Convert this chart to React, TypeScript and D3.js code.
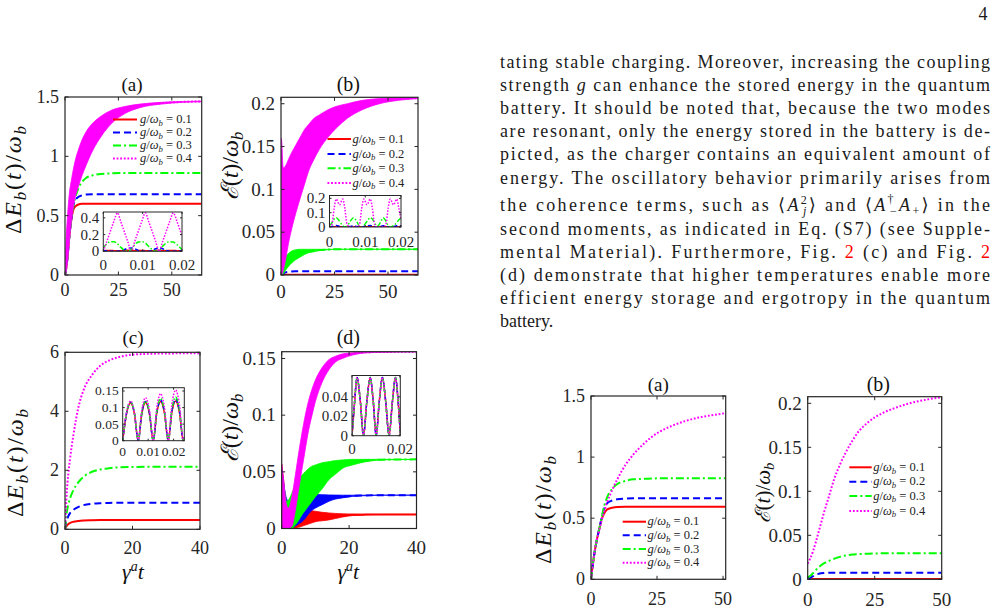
import React from 'react';
import * as d3 from 'd3';

const serif = "'Liberation Serif', 'DejaVu Serif', serif";
const ink = '#262626';

const couplings = [0.1, 0.2, 0.3, 0.4];
const lineColors = ['#ff0000', '#0000ff', '#00ff00', '#ff00ff'];

// (a) upper left: stored energy, long-time charging
const aTime = [0, 0.5, 1, 1.5, 2, 3, 4, 5, 6, 8, 10, 13, 17, 22, 28, 35, 45, 55, 64];
const aRed = [0, 0.05, 0.12, 0.22, 0.32, 0.47, 0.555, 0.58, 0.592, 0.6, 0.6, 0.6, 0.6, 0.6, 0.6, 0.6, 0.6, 0.6, 0.6];
const aBlue = [0, 0.05, 0.12, 0.22, 0.32, 0.48, 0.59, 0.635, 0.655, 0.672, 0.678, 0.68, 0.68, 0.68, 0.68, 0.68, 0.68, 0.68, 0.68];
const aGreen = [0, 0.05, 0.12, 0.22, 0.32, 0.48, 0.59, 0.665, 0.72, 0.785, 0.82, 0.84, 0.852, 0.857, 0.86, 0.86, 0.86, 0.86, 0.86];
const aMagLo = [0, 0.02, 0.08, 0.16, 0.27, 0.45, 0.58, 0.67, 0.73, 0.84, 0.93, 1.05, 1.17, 1.28, 1.36, 1.41, 1.44, 1.455, 1.46];
const aMagHi = [0, 0.3, 0.45, 0.58, 0.68, 0.8, 0.9, 0.98, 1.04, 1.14, 1.21, 1.28, 1.34, 1.39, 1.42, 1.44, 1.455, 1.462, 1.465];

const aInsetT = [0, 0.0009, 0.0018, 0.0027, 0.0036, 0.0044, 0.0053, 0.0062, 0.0071, 0.008, 0.0089, 0.0098, 0.0107, 0.0115, 0.0124, 0.0133, 0.0142, 0.0151, 0.016, 0.0169, 0.0178, 0.0187, 0.0196, 0.02];
const aInsetRed = [0.008, 0.01, 0.01, 0.008, 0.006, 0.008, 0.01, 0.012, 0.01, 0.008, 0.01, 0.01, 0.008, 0.006, 0.008, 0.01, 0.012, 0.01, 0.008, 0.01, 0.01, 0.008, 0.008, 0.01];
const aInsetBlue = [0.01, 0.005, 0, 0, 0, 0.005, 0.02, 0.035, 0.04, 0.03, 0.01, 0, 0, 0, 0.01, 0.03, 0.04, 0.03, 0.01, 0, 0, 0, 0.005, 0.01];
const aInsetGreen = [0.04, 0.09, 0.115, 0.115, 0.09, 0.05, 0.015, 0, 0.02, 0.08, 0.11, 0.115, 0.1, 0.06, 0.02, 0, 0.01, 0.06, 0.1, 0.115, 0.11, 0.08, 0.04, 0.02];
const aInsetMag = [0, 0.12, 0.24, 0.36, 0.46, 0.36, 0.24, 0.12, 0, 0.12, 0.24, 0.36, 0.46, 0.36, 0.24, 0.12, 0, 0.12, 0.24, 0.36, 0.46, 0.36, 0.24, 0.19];

// (b) upper: ergotropy, long-time charging
const bTime = [0, 0.3, 1, 2, 3.5, 5, 7, 9, 11, 13, 15, 18, 22, 26, 31, 38, 46, 55, 64];
const bRed = [0, 0.0002, 0.0003, 0.0004, 0.0004, 0.0004, 0.0004, 0.0004, 0.0004, 0.0004, 0.0004, 0.0004, 0.0004, 0.0004, 0.0004, 0.0004, 0.0004, 0.0004, 0.0004];
const bBlue = [0, 0.0005, 0.0015, 0.003, 0.0038, 0.0042, 0.0044, 0.0045, 0.0045, 0.0045, 0.0045, 0.0045, 0.0045, 0.0045, 0.0045, 0.0045, 0.0045, 0.0045, 0.0045];
const bGreenLo = [0, 0, 0.001, 0.005, 0.01, 0.014, 0.018, 0.021, 0.024, 0.026, 0.027, 0.0285, 0.0295, 0.03, 0.03, 0.03, 0.03, 0.03, 0.03];
const bGreenHi = [0, 0.003, 0.012, 0.02, 0.025, 0.028, 0.0295, 0.03, 0.03, 0.03, 0.03, 0.03, 0.03, 0.03, 0.03, 0.03, 0.03, 0.03, 0.03];
const bMagLo = [0, 0, 0.005, 0.016, 0.037, 0.054, 0.073, 0.09, 0.106, 0.122, 0.133, 0.147, 0.161, 0.172, 0.183, 0.193, 0.2, 0.204, 0.206];
const bMagHi = [0.16, 0.157, 0.125, 0.127, 0.135, 0.143, 0.152, 0.161, 0.17, 0.176, 0.182, 0.187, 0.193, 0.197, 0.2, 0.204, 0.206, 0.207, 0.207];

const bInsetT = [0, 0.0007, 0.0013, 0.0019, 0.0028, 0.0037, 0.0043, 0.0049, 0.0058, 0.0067, 0.0076, 0.0084, 0.009, 0.0096, 0.0105, 0.0114, 0.012, 0.0126, 0.0134, 0.0142, 0.015, 0.0158, 0.0164, 0.017, 0.0179, 0.0188, 0.0194, 0.02];
const bInsetRed = [0.001, 0.001, 0.001, 0.001, 0.001, 0.001, 0.001, 0.001, 0.001, 0.001, 0.001, 0.001, 0.001, 0.001, 0.001, 0.001, 0.001, 0.001, 0.001, 0.001, 0.001, 0.001, 0.001, 0.001, 0.001, 0.001, 0.001, 0.001];
const bInsetBlue = [0, 0.003, 0.008, 0.01, 0.006, 0.002, 0, 0, 0.004, 0.008, 0.004, 0, 0, 0.003, 0.008, 0.01, 0.006, 0.002, 0, 0.004, 0.008, 0.004, 0, 0, 0.003, 0.008, 0.01, 0.006];
const bInsetGreen = [0.01, 0.03, 0.055, 0.065, 0.04, 0.01, 0, 0.005, 0.04, 0.065, 0.04, 0.005, 0, 0.01, 0.04, 0.065, 0.055, 0.03, 0.005, 0.03, 0.065, 0.04, 0.01, 0, 0.01, 0.03, 0.05, 0.06];
const bInsetMag = [0, 0.02, 0.13, 0.195, 0.155, 0.195, 0.13, 0.02, 0, 0, 0, 0.02, 0.13, 0.195, 0.155, 0.195, 0.13, 0.02, 0, 0, 0, 0.02, 0.13, 0.195, 0.155, 0.195, 0.13, 0.05];

// (c) lower left: stored energy at higher temperature
const cTime = [0, 0.25, 0.5, 1, 1.5, 2.5, 4, 5.5, 8, 10.5, 13, 16, 20, 25, 30, 40];
const cRed = [0, 0.08, 0.12, 0.18, 0.215, 0.255, 0.285, 0.3, 0.31, 0.315, 0.315, 0.315, 0.315, 0.315, 0.315, 0.315];
const cBlue = [0, 0.2, 0.3, 0.45, 0.55, 0.66, 0.76, 0.82, 0.865, 0.885, 0.895, 0.9, 0.9, 0.9, 0.9, 0.9];
const cGreen = [0, 0.3, 0.55, 0.85, 1.05, 1.33, 1.6, 1.78, 1.95, 2.03, 2.07, 2.1, 2.11, 2.12, 2.12, 2.12];
const cMag = [0, 0.65, 1.2, 1.9, 2.4, 3.2, 4.15, 4.72, 5.23, 5.55, 5.72, 5.84, 5.92, 5.95, 5.96, 5.97];

const cInsetT = [0, 0.0015, 0.0031, 0.0046, 0.0061, 0.0075, 0.009, 0.0105, 0.012, 0.0134, 0.0149, 0.0164, 0.0179, 0.0193, 0.0208, 0.0223, 0.0238, 0.0242];
const cInsetRed = [0, 0.081, 0.114, 0.081, 0, 0.081, 0.115, 0.081, 0, 0.083, 0.118, 0.083, 0, 0.085, 0.12, 0.085, 0, 0.01];
const cInsetBlue = [0, 0.083, 0.117, 0.083, 0, 0.083, 0.118, 0.083, 0, 0.086, 0.122, 0.086, 0, 0.088, 0.125, 0.088, 0, 0.01];
const cInsetGreen = [0, 0.084, 0.118, 0.084, 0, 0.085, 0.12, 0.085, 0, 0.09, 0.128, 0.09, 0, 0.093, 0.132, 0.093, 0, 0.01];
const cInsetMag = [0, 0.085, 0.12, 0.085, 0, 0.092, 0.13, 0.092, 0, 0.1, 0.142, 0.1, 0, 0.108, 0.153, 0.108, 0, 0.01];

// (d) lower: ergotropy at higher temperature
const dTime = [0, 0.5, 1, 1.5, 2, 3, 4, 5, 6, 7, 8, 9, 10, 12, 14, 16, 18, 21, 25, 30, 40];
const dRedLo = [0, 0, 0, 0, 0, 0, 0, 0.001, 0.002, 0.003, 0.004, 0.005, 0.006, 0.0068, 0.0076, 0.0088, 0.0101, 0.0114, 0.012, 0.0124, 0.0124];
const dRedHi = [0.057, 0.045, 0.03, 0.018, 0.01, 0.008, 0.012, 0.015, 0.017, 0.0168, 0.0162, 0.0157, 0.0152, 0.0143, 0.0137, 0.0133, 0.013, 0.0127, 0.0125, 0.0124, 0.0124];
const dBlueLo = [0, 0, 0, 0, 0, 0, 0.002, 0.004, 0.006, 0.009, 0.013, 0.016, 0.018, 0.021, 0.024, 0.026, 0.027, 0.0283, 0.029, 0.0294, 0.0294];
const dBlueHi = [0.052, 0.042, 0.032, 0.026, 0.024, 0.025, 0.027, 0.029, 0.03, 0.03, 0.03, 0.03, 0.03, 0.0298, 0.0296, 0.0295, 0.0294, 0.0294, 0.0294, 0.0294, 0.0294];
const dGreenLo = [0, 0, 0, 0, 0, 0, 0.003, 0.007, 0.012, 0.016, 0.02, 0.024, 0.028, 0.035, 0.043, 0.048, 0.053, 0.056, 0.059, 0.0605, 0.061];
const dGreenHi = [0.05, 0.04, 0.03, 0.024, 0.025, 0.031, 0.038, 0.043, 0.047, 0.05, 0.053, 0.055, 0.056, 0.058, 0.059, 0.06, 0.0605, 0.061, 0.061, 0.061, 0.061];
const dMagLo = [0, 0, 0, 0, 0, 0.002, 0.015, 0.034, 0.052, 0.07, 0.087, 0.1, 0.112, 0.129, 0.14, 0.147, 0.15, 0.153, 0.155, 0.1555, 0.156];
const dMagHi = [0.057, 0.045, 0.03, 0.02, 0.018, 0.028, 0.046, 0.066, 0.084, 0.1, 0.113, 0.123, 0.131, 0.142, 0.149, 0.152, 0.154, 0.155, 0.156, 0.156, 0.156];

const dInsetT = [0, 0.0011, 0.0021, 0.0035, 0.0048, 0.0062, 0.0076, 0.0089, 0.0101, 0.0114, 0.0127, 0.0141, 0.0155, 0.0169, 0.0182, 0.0193, 0.0202];
const dInsetVal = [0, 0.035, 0.06, 0.035, 0, 0.035, 0.06, 0.035, 0, 0.035, 0.06, 0.035, 0, 0.035, 0.06, 0.035, 0.002];

// lower right (a): stored energy, smooth charging
const eTime = [0, 1, 2, 3, 4, 5, 6, 8, 10, 13, 16, 20, 25, 30, 35, 40, 45, 51];
const eRed = [0, 0.17, 0.3, 0.4, 0.49, 0.54, 0.57, 0.585, 0.592, 0.594, 0.594, 0.594, 0.594, 0.594, 0.594, 0.594, 0.594, 0.594];
const eBlue = [0, 0.17, 0.3, 0.4, 0.5, 0.58, 0.62, 0.645, 0.655, 0.66, 0.663, 0.663, 0.663, 0.663, 0.663, 0.663, 0.663, 0.663];
const eGreen = [0, 0.17, 0.3, 0.4, 0.5, 0.6, 0.665, 0.74, 0.78, 0.805, 0.818, 0.822, 0.826, 0.826, 0.826, 0.826, 0.826, 0.826];
const eMag = [0, 0.17, 0.3, 0.39, 0.48, 0.555, 0.625, 0.73, 0.82, 0.935, 1.02, 1.11, 1.195, 1.25, 1.29, 1.32, 1.34, 1.36];

// lower right (b): ergotropy, smooth charging
const fTime = [0, 1, 2, 3, 4, 5, 6, 8, 10, 12, 14, 16, 19, 22, 25, 28, 32, 38, 44, 50];
const fRed = [0, 0.0002, 0.0003, 0.0003, 0.0003, 0.0003, 0.0003, 0.0003, 0.0003, 0.0003, 0.0003, 0.0003, 0.0003, 0.0003, 0.0003, 0.0003, 0.0003, 0.0003, 0.0003, 0.0003];
const fBlue = [0, 0.0015, 0.0035, 0.0052, 0.0062, 0.0068, 0.0071, 0.0074, 0.0075, 0.0075, 0.0075, 0.0075, 0.0075, 0.0075, 0.0075, 0.0075, 0.0075, 0.0075, 0.0075, 0.0075];
const fGreen = [0.002, 0.004, 0.007, 0.0105, 0.0135, 0.016, 0.018, 0.021, 0.0235, 0.0255, 0.027, 0.028, 0.0287, 0.029, 0.0293, 0.0295, 0.0295, 0.0295, 0.0295, 0.0295];
const fMag = [0.018, 0.024, 0.032, 0.042, 0.053, 0.064, 0.075, 0.095, 0.115, 0.13, 0.143, 0.154, 0.168, 0.177, 0.184, 0.189, 0.194, 0.2, 0.204, 0.207];

type Curve = { t: number[]; v?: number[]; lo?: number[]; hi?: number[] };
type Spec = {
  id: string;
  x0: number; x1: number; y0: number; y1: number;
  xMax: number; yMax: number;
  xTicks: number[]; yTicks: number[];
  fs: number; xGap: number;
  inset?: boolean;
  curves: Curve[];
};

const dashFor = (i: number, inset?: boolean) =>
  inset ? ['none', '4 2.5', '5 2 1.5 2', '1.5 1.5'][i] : ['none', '7 4', '8 3 2 3', '1.8 1.8'][i];

function Axes({ s }: { s: Spec }) {
  const x = d3.scaleLinear().domain([0, s.xMax]).range([s.x0, s.x1]);
  const y = d3.scaleLinear().domain([0, s.yMax]).range([s.y1, s.y0]);
  const tk = s.inset ? 2 : 3.5;
  const lw = s.inset ? 1.5 : 2;
  const w = s.x1 - s.x0;
  const h = s.y1 - s.y0;
  return (
    <g>
      <defs>
        <clipPath id={s.id}>
          <rect x={s.x0} y={s.y0} width={w} height={h} />
        </clipPath>
      </defs>
      {s.inset && <rect x={s.x0} y={s.y0} width={w} height={h} fill="#fff" />}
      <g clipPath={`url(#${s.id})`}>
        {s.curves.map((c, i) => {
          const band =
            c.lo && c.hi
              ? d3.area<number>()
                  .x((_, k) => x(c.t[k]))
                  .y0((_, k) => y(c.lo![k]))
                  .y1((d) => y(d))
                  .curve(d3.curveMonotoneX)(c.hi)
              : null;
          const vals = c.v ?? c.lo!.map((lo, k) => (lo + c.hi![k]) / 2);
          const path = d3.line<number>()
            .x((_, k) => x(c.t[k]))
            .y((d) => y(d))
            .curve(d3.curveMonotoneX)(vals);
          return (
            <g key={i}>
              {band && <path d={band} fill={lineColors[i]} stroke={lineColors[i]} strokeWidth={0.8} />}
              <path d={path ?? ''} fill="none" stroke={lineColors[i]} strokeWidth={lw}
                strokeDasharray={dashFor(i, s.inset)} />
            </g>
          );
        })}
      </g>
      <rect x={s.x0} y={s.y0} width={w} height={h} fill="none" stroke={ink} strokeWidth={s.inset ? 1 : 1.2} />
      {s.xTicks.map((v) => (
        <g key={'x' + v}>
          <line x1={x(v)} x2={x(v)} y1={s.y1} y2={s.y1 - tk} stroke={ink} />
          <line x1={x(v)} x2={x(v)} y1={s.y0} y2={s.y0 + tk} stroke={ink} />
          <text x={x(v)} y={s.y1 + s.xGap + s.fs * 0.33} fontSize={s.fs} textAnchor="middle" fill={ink}>
            {String(v)}
          </text>
        </g>
      ))}
      {s.yTicks.map((v) => (
        <g key={'y' + v}>
          <line x1={s.x0} x2={s.x0 + tk} y1={y(v)} y2={y(v)} stroke={ink} />
          <line x1={s.x1} x2={s.x1 - tk} y1={y(v)} y2={y(v)} stroke={ink} />
          <text x={s.x0 - (s.inset ? 4 : 6)} y={y(v) + s.fs * 0.33} fontSize={s.fs} textAnchor="end" fill={ink}>
            {String(v)}
          </text>
        </g>
      ))}
    </g>
  );
}

function Legend({ x0, x1, tx, rows, fs }: { x0: number; x1: number; tx: number; rows: number[]; fs: number }) {
  return (
    <g>
      {couplings.map((c, i) => (
        <g key={c}>
          <line x1={x0} x2={x1} y1={rows[i]} y2={rows[i]} stroke={lineColors[i]} strokeWidth={2}
            strokeDasharray={dashFor(i)} />
          <text x={tx} y={rows[i] + fs * 0.3} fontSize={fs} fill="#222">
            <tspan fontStyle="italic">g</tspan>/<tspan fontStyle="italic">ω</tspan>
            <tspan fontStyle="italic" fontSize={fs * 0.7} dy={fs * 0.2}>b</tspan>
            <tspan dy={-fs * 0.2}>{` = ${c}`}</tspan>
          </text>
        </g>
      ))}
    </g>
  );
}

function EnergyLabel({ x, y }: { x: number; y: number }) {
  return (
    <text transform={`translate(${x},${y}) rotate(-90)`} textAnchor="middle" fontSize={24} fill="#111"
      textLength={108} lengthAdjust="spacing">
      Δ<tspan fontStyle="italic">E</tspan>
      <tspan fontStyle="italic" fontSize={17} dy={5}>b</tspan>
      <tspan dy={-5}>(</tspan><tspan fontStyle="italic">t</tspan>)/<tspan fontStyle="italic">ω</tspan>
      <tspan fontStyle="italic" fontSize={17} dy={5}>b</tspan>
    </text>
  );
}

function ErgoLabel({ x, y, fs = 24 }: { x: number; y: number; fs?: number }) {
  return (
    <text transform={`translate(${x},${y}) rotate(-90)`} textAnchor="middle" fontSize={fs} fill="#111">
      <tspan fontStyle="italic">ℰ</tspan>(<tspan fontStyle="italic">t</tspan>)/<tspan fontStyle="italic">ω</tspan>
      <tspan fontStyle="italic" fontSize={fs * 0.7} dy={fs * 0.2}>b</tspan>
    </text>
  );
}

function TimeLabel({ x, y }: { x: number; y: number }) {
  return (
    <text x={x} y={y} textAnchor="middle" fontSize={22} fontStyle="italic" fill="#111">
      γ<tspan fontSize={14} dy={-8}>a</tspan><tspan dy={8}>t</tspan>
    </text>
  );
}

const Title = ({ x, y, t, fs }: { x: number; y: number; t: string; fs: number }) => (
  <text x={x} y={y} fontSize={fs} textAnchor="middle" fill="#111">{t}</text>
);

const red2 = '#ff0000';
const paraX = 500;
const paraW = 490;
const paraY = [67.5, 90.5, 113.5, 136.5, 160, 183.5, 210.5, 234.5, 257.5, 280.5, 303.5, 326.5];

function Paragraph() {
  const lines: React.ReactNode[] = [
    'tating stable charging. Moreover, increasing the coupling',
    <>strength <tspan fontStyle="italic">g</tspan> can enhance the stored energy in the quantum</>,
    'battery. It should be noted that, because the two modes',
    'are resonant, only the energy stored in the battery is de-',
    'picted, as the charger contains an equivalent amount of',
    'energy.  The oscillatory behavior primarily arises from',
    <>
      the coherence terms, such as ⟨<tspan fontStyle="italic">A</tspan>
      <tspan fontSize={12} dy={-7}>2</tspan>
      <tspan fontStyle="italic" fontSize={12} dx={-6} dy={11}>j</tspan>
      <tspan dy={-4}>⟩ and ⟨</tspan><tspan fontStyle="italic">A</tspan>
      <tspan fontSize={12} dy={-8}>†</tspan>
      <tspan fontSize={12} dx={-6} dy={12}>−</tspan>
      <tspan fontStyle="italic" dy={-4}>A</tspan>
      <tspan fontSize={12} dy={4}>+</tspan>
      <tspan dy={-4}>⟩ in the</tspan>
    </>,
    'second moments, as indicated in Eq.  (S7) (see Supple-',
    <>mental Material). Furthermore, Fig. <tspan fill={red2}>2</tspan> (c) and Fig. <tspan fill={red2}>2</tspan></>,
    '(d) demonstrate that higher temperatures enable more',
    'efficient energy storage and ergotropy in the quantum',
    'battery.',
  ];
  return (
    <g fontSize={18} fill="#1a1a1a">
      {lines.map((l, i) => (
        <text key={i} x={paraX} y={paraY[i]}
          {...(i < lines.length - 1 ? { textLength: paraW, lengthAdjust: 'spacing' } : {})}>
          {l}
        </text>
      ))}
    </g>
  );
}

const panelA: Spec = {
  id: 'clipA', x0: 65, x1: 201.7, y0: 97, y1: 275, xMax: 64, yMax: 1.5,
  xTicks: [0, 25, 50], yTicks: [0, 0.5, 1, 1.5], fs: 18, xGap: 15,
  curves: [
    { t: aTime, v: aRed }, { t: aTime, v: aBlue }, { t: aTime, v: aGreen },
    { t: aTime, lo: aMagLo, hi: aMagHi },
  ],
};
const insetA: Spec = {
  id: 'clipAi', x0: 103.3, x1: 182, y0: 212, y1: 251.3, xMax: 0.02, yMax: 0.47,
  xTicks: [0, 0.01, 0.02], yTicks: [0, 0.2, 0.4], fs: 15, xGap: 14, inset: true,
  curves: [
    { t: aInsetT, v: aInsetRed }, { t: aInsetT, v: aInsetBlue },
    { t: aInsetT, v: aInsetGreen }, { t: aInsetT, v: aInsetMag },
  ],
};
const panelB: Spec = {
  id: 'clipB', x0: 281, x1: 418, y0: 97.3, y1: 275, xMax: 64, yMax: 0.2075,
  xTicks: [0, 25, 50], yTicks: [0, 0.05, 0.1, 0.15, 0.2], fs: 19, xGap: 16.5,
  curves: [
    { t: bTime, v: bRed }, { t: bTime, v: bBlue },
    { t: bTime, lo: bGreenLo, hi: bGreenHi }, { t: bTime, lo: bMagLo, hi: bMagHi },
  ],
};
const insetB: Spec = {
  id: 'clipBi', x0: 329.5, x1: 401, y0: 195.5, y1: 227, xMax: 0.02, yMax: 0.22,
  xTicks: [0, 0.01, 0.02], yTicks: [0, 0.1, 0.2], fs: 15, xGap: 15, inset: true,
  curves: [
    { t: bInsetT, v: bInsetRed }, { t: bInsetT, v: bInsetBlue },
    { t: bInsetT, v: bInsetGreen }, { t: bInsetT, v: bInsetMag },
  ],
};
const panelC: Spec = {
  id: 'clipC', x0: 65, x1: 200, y0: 352.3, y1: 529.3, xMax: 40, yMax: 6,
  xTicks: [0, 20, 40], yTicks: [0, 2, 4, 6], fs: 18, xGap: 19,
  curves: [
    { t: cTime, v: cRed }, { t: cTime, v: cBlue }, { t: cTime, v: cGreen }, { t: cTime, v: cMag },
  ],
};
const insetC: Spec = {
  id: 'clipCi', x0: 122.7, x1: 184.3, y0: 387.7, y1: 440.7, xMax: 0.0242, yMax: 0.16,
  xTicks: [0, 0.01, 0.02], yTicks: [0, 0.05, 0.1, 0.15], fs: 13.5, xGap: 11, inset: true,
  curves: [
    { t: cInsetT, v: cInsetRed }, { t: cInsetT, v: cInsetBlue },
    { t: cInsetT, v: cInsetGreen }, { t: cInsetT, v: cInsetMag },
  ],
};
const panelD: Spec = {
  id: 'clipD', x0: 281.7, x1: 416.5, y0: 351.7, y1: 528.5, xMax: 40, yMax: 0.156,
  xTicks: [0, 20, 40], yTicks: [0, 0.05, 0.1, 0.15], fs: 19, xGap: 19,
  curves: [
    { t: dTime, lo: dRedLo, hi: dRedHi }, { t: dTime, lo: dBlueLo, hi: dBlueHi },
    { t: dTime, lo: dGreenLo, hi: dGreenHi }, { t: dTime, lo: dMagLo, hi: dMagHi },
  ],
};
const insetD: Spec = {
  id: 'clipDi', x0: 352, x1: 400.3, y0: 375.5, y1: 435.7, xMax: 0.0202, yMax: 0.062,
  xTicks: [0, 0.02], yTicks: [0, 0.02, 0.04], fs: 15, xGap: 13, inset: true,
  curves: [
    { t: dInsetT, v: dInsetVal }, { t: dInsetT, v: dInsetVal },
    { t: dInsetT, v: dInsetVal }, { t: dInsetT, v: dInsetVal },
  ],
};
const panelE: Spec = {
  id: 'clipE', x0: 591, x1: 725.7, y0: 396, y1: 579.3, xMax: 51, yMax: 1.5,
  xTicks: [0, 25, 50], yTicks: [0, 0.5, 1, 1.5], fs: 18, xGap: 20,
  curves: [
    { t: eTime, v: eRed }, { t: eTime, v: eBlue }, { t: eTime, v: eGreen }, { t: eTime, v: eMag },
  ],
};
const panelF: Spec = {
  id: 'clipF', x0: 807.7, x1: 941.7, y0: 396.7, y1: 579.3, xMax: 50, yMax: 0.2075,
  xTicks: [0, 25, 50], yTicks: [0, 0.05, 0.1, 0.15, 0.2], fs: 19, xGap: 20,
  curves: [
    { t: fTime, v: fRed }, { t: fTime, v: fBlue }, { t: fTime, v: fGreen }, { t: fTime, v: fMag },
  ],
};

export default function App() {
  return (
    <svg width={998} height={612} viewBox="0 0 998 612"
      style={{ position: 'absolute', left: 0, top: 0, background: '#fff', fontFamily: serif }}>
      <rect width={998} height={612} fill="#fff" />
      <text x={983} y={20} fontSize={18} textAnchor="middle" fill="#1a1a1a">4</text>
      <Paragraph />

      <Title x={132} y={91} t="(a)" fs={19} />
      <Axes s={panelA} />
      <Legend x0={113} x1={137} tx={140} rows={[119.5, 132.5, 145.5, 158.5]} fs={12.5} />
      <Axes s={insetA} />
      <EnergyLabel x={21} y={180} />

      <Title x={348.3} y={91} t="(b)" fs={20} />
      <Axes s={panelB} />
      <Legend x0={327.5} x1={351} tx={352.5} rows={[139, 154, 168.3, 183]} fs={12.5} />
      <Axes s={insetB} />
      <ErgoLabel x={238} y={166} />

      <Title x={133} y={344} t="(c)" fs={19} />
      <Axes s={panelC} />
      <Axes s={insetC} />
      <EnergyLabel x={23} y={463} />
      <TimeLabel x={133} y={579} />

      <Title x={348.3} y={344} t="(d)" fs={20} />
      <Axes s={panelD} />
      <Axes s={insetD} />
      <ErgoLabel x={238} y={428} />
      <TimeLabel x={348.3} y={579} />

      <Title x={658.3} y={391} t="(a)" fs={19} />
      <Axes s={panelE} />
      <Legend x0={622.7} x1={646} tx={647.5} rows={[521.7, 535.3, 549, 562.7]} fs={12.5} />
      <EnergyLabel x={551} y={510} />

      <Title x={878.3} y={391} t="(b)" fs={20} />
      <Axes s={panelF} />
      <Legend x0={849.3} x1={871.7} tx={873.3} rows={[467.3, 481.7, 496, 511]} fs={12.5} />
      <ErgoLabel x={770} y={493} fs={21} />
    </svg>
  );
}
